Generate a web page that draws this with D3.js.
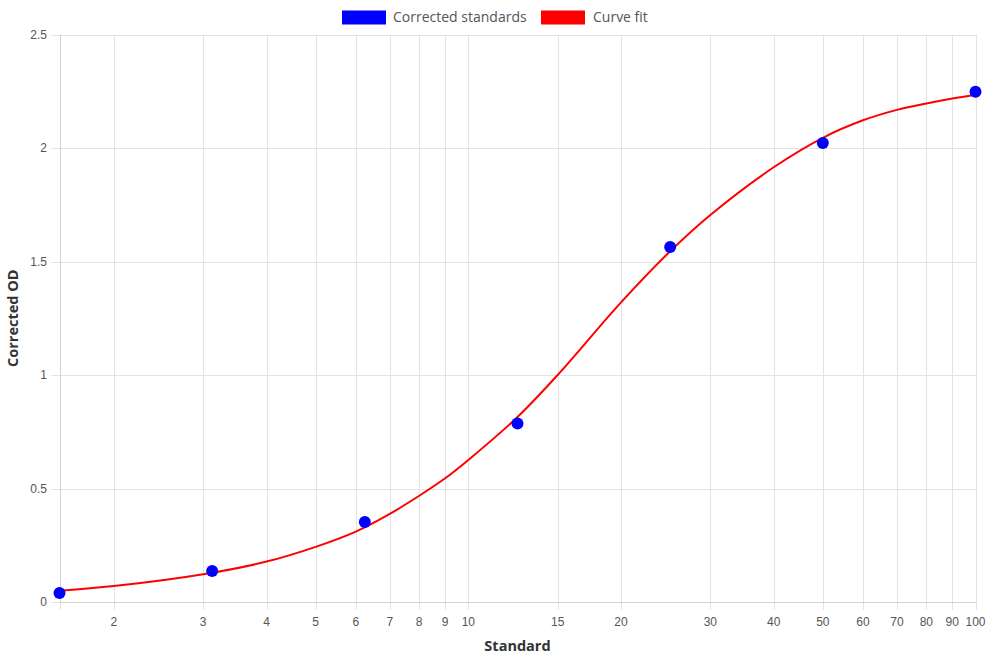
<!DOCTYPE html>
<html>
<head>
<meta charset="utf-8">
<script src="https://cdn.jsdelivr.net/npm/d3@7"></script>
<style>
  html, body { margin: 0; padding: 0; background: #fff; }
  svg { display: block; }
</style>
</head>
<body>
<svg id="chart" width="990" height="660"></svg>
<script>
// ---- data ----
const standardX = [1.5625, 3.125, 6.25, 12.5, 25, 50, 100];
const correctedOD = [0.04, 0.137, 0.352, 0.786, 1.564, 2.022, 2.248];

const fitX = [1.5625, 2, 3, 4, 5, 6, 7, 8, 9, 10, 12.5, 15, 20, 25, 30, 40, 50, 60, 70, 80, 90, 100];
const fitY = [0.05, 0.07, 0.122, 0.178, 0.243, 0.31, 0.388, 0.468, 0.545, 0.626, 0.815, 1.0, 1.32, 1.545, 1.705, 1.915, 2.045, 2.122, 2.168, 2.196, 2.218, 2.235];

const xTickValues = [2, 3, 4, 5, 6, 7, 8, 9, 10, 15, 20, 30, 40, 50, 60, 70, 80, 90, 100];
const yTickValues = [0, 0.5, 1, 1.5, 2, 2.5];

const seriesNames = ["Corrected standards", "Curve fit"];
const seriesColors = ["#0000ff", "#ff0000"];

// ---- layout ----
const plotLeft = 59.5, plotRight = 975.5, plotTop = 34.5, plotBottom = 602;
const svg = d3.select("#chart");

const x = d3.scaleLog().domain([1.5625, 100]).range([plotLeft, plotRight]);
const y = d3.scaleLinear().domain([0, 2.5]).range([plotBottom, plotTop]);

const gridColor = "#e3e3e3";
const tickFont = "'Liberation Sans', Arial, sans-serif";
const titleFont = "'Open Sans', 'Noto Sans', sans-serif";

// vertical grid (x ticks) incl. left edge
svg.append("g").selectAll("line")
  .data([1.5625].concat(xTickValues))
  .join("line")
  .attr("x1", d => Math.round(x(d)) + 0.5)
  .attr("x2", d => Math.round(x(d)) + 0.5)
  .attr("y1", plotTop)
  .attr("y2", plotBottom + 8)
  .attr("stroke", gridColor)
  .attr("stroke-width", 1);

// horizontal grid
svg.append("g").selectAll("line")
  .data(yTickValues)
  .join("line")
  .attr("x1", plotLeft - 8)
  .attr("x2", plotRight)
  .attr("y1", d => Math.round(y(d)) + 0.5)
  .attr("y2", d => Math.round(y(d)) + 0.5)
  .attr("stroke", gridColor)
  .attr("stroke-width", 1);

// axis border lines
svg.append("line")
  .attr("x1", plotLeft).attr("x2", plotRight)
  .attr("y1", Math.round(y(0)) + 0.5).attr("y2", Math.round(y(0)) + 0.5)
  .attr("stroke", "#d0d0d0");
svg.append("line")
  .attr("x1", Math.round(plotLeft) + 0.5).attr("x2", Math.round(plotLeft) + 0.5)
  .attr("y1", plotTop).attr("y2", plotBottom)
  .attr("stroke", "#d0d0d0");

// tick labels
svg.append("g").selectAll("text")
  .data(xTickValues)
  .join("text")
  .attr("x", d => x(d))
  .attr("y", 626)
  .attr("text-anchor", "middle")
  .attr("font-family", tickFont)
  .attr("font-size", 12)
  .attr("fill", "#555")
  .text(d => d);

svg.append("g").selectAll("text")
  .data(yTickValues)
  .join("text")
  .attr("x", 47)
  .attr("y", d => y(d) + 4)
  .attr("text-anchor", "end")
  .attr("font-family", tickFont)
  .attr("font-size", 12)
  .attr("fill", "#555")
  .text(d => d);

// axis titles
svg.append("text")
  .attr("x", (plotLeft + plotRight) / 2)
  .attr("y", 651)
  .attr("text-anchor", "middle")
  .attr("font-family", titleFont)
  .attr("font-weight", "bold")
  .attr("font-size", 14.5)
  .attr("fill", "#333")
  .text("Standard");

svg.append("text")
  .attr("transform", `translate(18, ${(plotTop + plotBottom) / 2}) rotate(-90)`)
  .attr("text-anchor", "middle")
  .attr("font-family", titleFont)
  .attr("font-weight", "bold")
  .attr("font-size", 14.5)
  .attr("fill", "#333")
  .text("Corrected OD");

// curve fit
const fitData = fitX.map((v, i) => [v, fitY[i]]);
const line = d3.line()
  .x(d => x(d[0]))
  .y(d => y(d[1]))
  .curve(d3.curveCatmullRom.alpha(0.5));
svg.append("path")
  .datum(fitData)
  .attr("d", line)
  .attr("fill", "none")
  .attr("stroke", seriesColors[1])
  .attr("stroke-width", 2);

// points
svg.append("g").selectAll("circle")
  .data(standardX.map((v, i) => [v, correctedOD[i]]))
  .join("circle")
  .attr("cx", d => x(d[0]))
  .attr("cy", d => y(d[1]))
  .attr("r", 6)
  .attr("fill", seriesColors[0]);

// legend
const legend = svg.append("g");
const legendItems = [
  { name: seriesNames[0], color: seriesColors[0], bx: 342, tx: 393 },
  { name: seriesNames[1], color: seriesColors[1], bx: 541, tx: 593 }
];
legendItems.forEach(it => {
  legend.append("rect")
    .attr("x", it.bx).attr("y", 10.5)
    .attr("width", 44).attr("height", 14)
    .attr("fill", it.color);
  legend.append("text")
    .attr("x", it.tx).attr("y", 22)
    .attr("font-family", titleFont)
    .attr("font-size", 14)
    .attr("fill", "#555")
    .text(it.name);
});
</script>
</body>
</html>
